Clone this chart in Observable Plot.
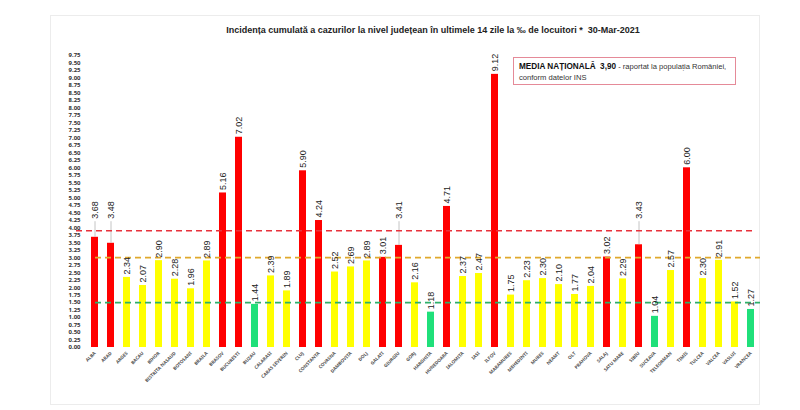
<!DOCTYPE html>
<html>
<head>
<meta charset="utf-8">
<script src="https://cdn.jsdelivr.net/npm/d3@7"></script>
<script src="https://cdn.jsdelivr.net/npm/@observablehq/plot@0.6"></script>
<style>
  html, body { margin: 0; padding: 0; background: #fff; }
  #wrap { position: relative; width: 800px; height: 410px; overflow: hidden; }
  #frame { position: absolute; left: 50px; top: 15px; width: 710px; height: 390px; border: 1px solid #ececec; box-sizing: border-box; }
  #title { position: absolute; left: 0; width: 866px; top: 25px; text-align: center; font-family: "Liberation Sans Narrow", "Liberation Sans", Arial, sans-serif; font-weight: bold; font-size: 9px; color: #222; white-space: nowrap; }
  #legend { position: absolute; left: 513px; top: 57px; width: 223px; height: 28px; border: 1px solid #e58a98; box-sizing: border-box; background: #fff; font-family: "Liberation Sans", Arial, sans-serif; font-size: 7.6px; color: #333; padding: 3px 0 0 5px; line-height: 11px; white-space: nowrap; }
  #legend b { color: #111; font-size: 8.2px; }
  #chart { position: absolute; left: 0; top: 0; }
</style>
</head>
<body>
<div id="wrap">
  <div id="frame"></div>
  <div id="chart"></div>
  <div id="title">Incidența cumulată a cazurilor la nivel județean în ultimele 14 zile la ‰ de locuitori * &nbsp;30-Mar-2021</div>
  <div id="legend"><b>MEDIA NAȚIONALĂ &nbsp;3,90</b> - raportat la populația României,<br>conform datelor INS</div>
</div>
<script>
const counties = ["ALBA","ARAD","ARGES","BACAU","BIHOR","BISTRITA NASAUD","BOTOSANI","BRAILA","BRASOV","BUCURESTI","BUZAU","CALARASI","CARAS SEVERIN","CLUJ","CONSTANTA","COVASNA","DAMBOVITA","DOLJ","GALATI","GIURGIU","GORJ","HARGHITA","HUNEDOARA","IALOMITA","IASI","ILFOV","MARAMURES","MEHEDINTI","MURES","NEAMT","OLT","PRAHOVA","SALAJ","SATU MARE","SIBIU","SUCEAVA","TELEORMAN","TIMIS","TULCEA","VALCEA","VASLUI","VRANCEA"];
const values = [3.68,3.48,2.34,2.07,2.90,2.28,1.96,2.89,5.16,7.02,1.44,2.39,1.89,5.90,4.24,2.52,2.69,2.89,3.01,3.41,2.16,1.18,4.71,2.37,2.47,9.12,1.75,2.23,2.30,2.10,1.77,2.04,3.02,2.29,3.43,1.04,2.57,6.00,2.30,2.91,1.52,1.27];
const nationalAverage = 3.90;
const highThreshold = 3.0;
const lowThreshold = 1.5;
const yTicks = d3.range(0, 40).map(i => i * 0.25);

const data = counties.map((c, i) => ({county: c, value: values[i]}));
const colorOf = v => v > highThreshold ? "#ff0000" : v >= lowThreshold ? "#ffff00" : "#1fe07a";
const lifted = d => d.value > 3.3 && d.value < nationalAverage;
const labelBase = 4.2;
const fmt = d3.format(".2f");

const chart = Plot.plot({
  width: 800,
  height: 410,
  marginLeft: 84,
  marginRight: 38,
  marginTop: 55,
  marginBottom: 63,
  x: {domain: counties, padding: 0.56, paddingOuter: 0.3, label: null},
  y: {domain: [0, 9.75], ticks: yTicks, tickFormat: fmt, label: null},
  style: {background: "transparent", overflow: "visible"},
  marks: [
    Plot.axisY({ticks: yTicks, tickFormat: fmt, tickSize: 0, tickPadding: 4, fontSize: 6, fontWeight: "bold", fill: "#333", label: null}),
    Plot.axisX({tickSize: 0, tickPadding: 5, tickRotate: -45, fontSize: 4.6, fontWeight: "bold", fill: "#555", label: null}),
    Plot.barY(data, {x: "county", y: "value", fill: d => colorOf(d.value)}),
    Plot.ruleX(data.filter(lifted), {x: "county", y1: "value", y2: labelBase, stroke: "#b5b5b5", strokeWidth: 0.8}),
    Plot.ruleY([nationalAverage], {stroke: "#e8323c", strokeWidth: 1.6, strokeDasharray: "6,4", insetLeft: -8, insetRight: 10}),
    Plot.ruleY([highThreshold], {stroke: "#e0a92c", strokeWidth: 1.6, strokeDasharray: "6,4", insetLeft: 11, insetRight: 2}),
    Plot.ruleY([lowThreshold], {stroke: "#2fb06a", strokeWidth: 1.6, strokeDasharray: "6,4", insetLeft: 11, insetRight: 2}),
    Plot.text(data, {x: "county", y: d => lifted(d) ? labelBase : d.value, text: d => fmt(d.value), rotate: -90, textAnchor: "start", dy: -3, fontSize: 9, fill: "#222", fontFamily: "'Liberation Sans', Arial, sans-serif"})
  ]
});
document.getElementById("chart").appendChild(chart);
</script>
</body>
</html>
